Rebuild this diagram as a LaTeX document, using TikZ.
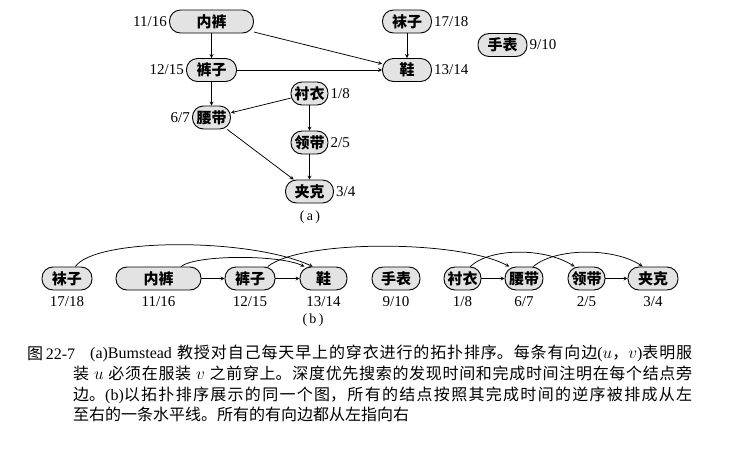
\documentclass[tikz,border=0pt]{standalone}
\usepackage{fontspec}
\setmainfont{Liberation Serif}
\newfontfamily\cjk{Noto Sans CJK SC}
\XeTeXlinebreaklocale "zh"
\XeTeXlinebreakskip=0pt plus 1pt
\begin{document}
\begin{tikzpicture}[x=1pt, y=-1pt, >=stealth, line join=round,
    cloth/.style={draw, line width=0.9pt, fill=gray!22, rounded corners=11pt, minimum height=23pt, inner sep=2pt, font=\cjk\bfseries\fontsize{15}{15}\selectfont},
    edge/.style={->, line width=0.75pt},
    below num/.style={label={[label distance=4pt]below:#1}},
    every label/.style={font=\fontsize{15}{15}\selectfont, inner sep=2pt}]
    \useasboundingbox (0,0) rectangle (732,451);
    % (a)
    \node[cloth, minimum width=84pt, label=left:11/16] (neiku) at (211.5,21.5) {内裤};
    \node[cloth, minimum width=49pt, label=right:17/18] (wazi) at (407,21.5) {袜子};
    \node[cloth, minimum width=49pt, label=right:9/10] (shoubiao) at (502.5,45) {手表};
    \node[cloth, minimum width=50pt, label=left:12/15] (kuzi) at (211.5,70) {裤子};
    \node[cloth, minimum width=49pt, label=right:13/14] (xie) at (407,70) {鞋};
    \node[cloth, minimum width=37pt, label=right:1/8] (chenyi) at (309.5,93.5) {衬衣};
    \node[cloth, minimum width=38pt, label=left:6/7] (yaodai) at (211.5,117.5) {腰带};
    \node[cloth, minimum width=37pt, label=right:2/5] (lingdai) at (309.5,142.5) {领带};
    \node[cloth, minimum width=48pt, label=right:3/4] (jiake) at (309.5,191.5) {夹克};
    \draw[edge] (neiku) -- (kuzi);
    \draw[edge] (neiku) -- (xie);
    \draw[edge] (wazi) -- (xie);
    \draw[edge] (kuzi) -- (xie);
    \draw[edge] (kuzi) -- (yaodai);
    \draw[edge] (chenyi) -- (yaodai);
    \draw[edge] (chenyi) -- (lingdai);
    \draw[edge] (yaodai) -- (jiake);
    \draw[edge] (lingdai) -- (jiake);
    \node[font=\fontsize{14}{14}\selectfont] (taga) at (310,217) {(\,a\,)};
    % (b)
    \node[cloth, minimum width=50pt, below num=17/18] (bwazi) at (67,278.5) {袜子};
    \node[cloth, minimum width=85pt, below num=11/16] (bneiku) at (158.5,278.5) {内裤};
    \node[cloth, minimum width=50pt, below num=12/15] (bkuzi) at (250,278.5) {裤子};
    \node[cloth, minimum width=47pt, below num=13/14] (bxie) at (323.5,278.5) {鞋};
    \node[cloth, minimum width=48pt, below num=9/10] (bshoubiao) at (396,278.5) {手表};
    \node[cloth, minimum width=37pt, below num=1/8] (bchenyi) at (462.5,278.5) {衬衣};
    \node[cloth, minimum width=38pt, below num=6/7] (byaodai) at (524,278.5) {腰带};
    \node[cloth, minimum width=37pt, below num=2/5] (blingdai) at (586.5,278.5) {领带};
    \node[cloth, minimum width=50pt, below num=3/4] (bjiake) at (653,278.5) {夹克};
    \draw[edge] (bneiku) -- (bkuzi);
    \draw[edge] (bkuzi) -- (bxie);
    \draw[edge] (bchenyi) -- (byaodai);
    \draw[edge] (blingdai) -- (bjiake);
    \draw[edge] (bwazi.55) .. controls +(20,-29) and +(-63,-29) .. (bxie.132);
    \draw[edge] (bneiku.28) .. controls +(15,-12) and +(-25,-12) .. (bxie.148);
    \draw[edge] (bkuzi.34) .. controls +(33,-27) and +(-50,-27) .. (byaodai.141);
    \draw[edge] (bchenyi.57) .. controls +(20,-19) and +(-30,-19) .. (blingdai.135);
    \draw[edge] (byaodai.52) .. controls +(22,-19) and +(-28,-19) .. (bjiake.131);
    \node[font=\fontsize{14}{14}\selectfont] (tagb) at (313,320) {(\,b\,)};
    % caption
    \node[anchor=base west, inner sep=0pt, font=\cjk\fontsize{16}{20.7}\selectfont] (fig) at (27,359) {图\,{\rmfamily 22-7}};
    \node[anchor=north west, text width=619pt, align=justify, inner sep=0pt, font=\cjk\fontsize{16}{20.7}\selectfont] (caption) at (73,345) {%
        \hspace*{17pt}{\rmfamily (a)Bumstead} 教授对自己每天早上的穿衣进行的拓扑排序。每条有向边{\rmfamily (}$u$，$v${\rmfamily )}表明服\break
        装 $u$ 必须在服装 $v$ 之前穿上。深度优先搜索的发现时间和完成时间注明在每个结点旁\break
        边。{\rmfamily (b)}以拓扑排序展示的同一个图，所有的结点按照其完成时间的逆序被排成从左\break
        至右的一条水平线。所有的有向边都从左指向右};
\end{tikzpicture}
\end{document}
